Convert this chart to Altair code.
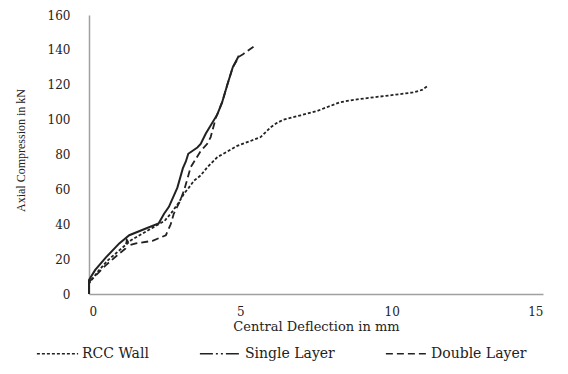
import altair as alt
import pandas as pd

series_names = ["RCC Wall", "Single Layer", "Double Layer"]

rcc_x = [0, 0, 0.3, 0.6, 1.0, 1.4, 1.8, 2.15, 2.5, 2.7, 2.95, 3.14, 3.3, 3.47, 3.69, 3.91, 4.24,
         4.6, 4.9, 5.3, 5.67, 5.85, 6.0, 6.2, 6.43, 7.0, 7.54, 8.3, 8.8, 9.4, 10.0, 10.7, 11.0, 11.2]
rcc_y = [0, 6, 13, 19, 25, 31, 35, 38.5, 42, 46, 52, 57.6, 61, 65, 68, 72.7, 78.5,
         82, 85, 87.5, 90, 93, 95.6, 98, 100, 102.5, 105, 110, 111.5, 112.8, 114, 115.6, 117, 119.4]

single_x = [0, 0, 0.2, 0.56, 1.0, 1.33, 1.9, 2.3, 2.48, 2.64, 2.92, 3.1, 3.2, 3.28, 3.58, 3.69,
            3.86, 4.24, 4.4, 4.57, 4.75, 4.95]
single_y = [0, 8, 13.7, 21, 29, 33.7, 37.7, 40.4, 46, 50, 61, 72, 76, 80.4, 84, 86,
            92, 103, 110, 120, 130, 136.6]

double_x = [0, 0, 0.3, 0.56, 1.0, 1.2, 1.25, 1.35, 1.55, 2.1, 2.54, 2.7, 2.8, 3.0, 3.14, 3.25,
            3.36, 3.69, 3.9, 4.02, 4.19, 4.4, 4.57, 4.75, 4.95, 5.1, 5.45]
double_y = [0, 7, 12, 16.6, 23.2, 26, 31, 28, 29, 30.5, 33.7, 40, 46, 53, 59.4, 66,
            72.7, 82, 86, 90, 101, 110, 120, 130, 136, 137.7, 142]

rows = []
for name, xs, ys in [("RCC Wall", rcc_x, rcc_y), ("Single Layer", single_x, single_y),
                     ("Double Layer", double_x, double_y)]:
    for i, (a, b) in enumerate(zip(xs, ys)):
        rows.append({"series": name, "x": a, "y": b, "i": i})
df = pd.DataFrame(rows)

x_enc = alt.X("x:Q", scale=alt.Scale(domain=[0, 15], nice=False),
              axis=alt.Axis(values=[0, 5, 10, 15], title="Central Deflection in mm", grid=False,
                            ticks=False, domainColor="#a0a0a0", domainWidth=1.5,
                            labelFont="DejaVu Serif", labelFontSize=12, labelColor="#222",
                            labelPadding=12, titleFont="DejaVu Serif", titleFontSize=13,
                            titleFontWeight="normal", titleColor="#222", titlePadding=3))
y_enc = alt.Y("y:Q", scale=alt.Scale(domain=[0, 160], nice=False),
              axis=alt.Axis(values=list(range(0, 161, 20)), title="Axial Compression in kN",
                            grid=False, ticks=False, domainColor="#a0a0a0", domainWidth=1.5,
                            labelFont="DejaVu Serif", labelFontSize=12, labelColor="#222",
                            labelPadding=19, titleFont="Liberation Serif", titleFontSize=12,
                            titleFontWeight="normal", titleColor="#222",
                            titleX=-69, titleY=135, titleAngle=270, titleAlign="center",
                            titleBaseline="middle"))

base = alt.Chart(df)

dashed = base.transform_filter(alt.datum.series != "Single Layer").mark_line(
    strokeWidth=1.8, color="#222"
).encode(
    x=x_enc, y=y_enc, order="i:Q",
    strokeDash=alt.StrokeDash(
        "series:N",
        scale=alt.Scale(domain=series_names, range=[[3, 2], [13, 3, 2, 3, 2, 3], [7, 4]]),
        legend=alt.Legend(orient="none", legendX=-53, legendY=317, direction="horizontal",
                          title=None, symbolType="stroke", symbolSize=1700,
                          symbolStrokeWidth=1.5, symbolStrokeColor="#222",
                          labelFont="DejaVu Serif", labelFontSize=14, labelColor="#222",
                          labelOffset=3, columnPadding=47, symbolOpacity=1),
    ),
)

single = base.transform_filter(alt.datum.series == "Single Layer").mark_line(
    strokeWidth=2, color="#222"
).encode(x=x_enc, y=y_enc, order="i:Q")

chart = alt.layer(dashed, single).properties(
    width=454, height=279,
    autosize=alt.AutoSizeParams(type="none"),
    padding={"left": 81, "top": 7, "right": 17, "bottom": 72},
    background="white",
).configure_view(stroke=None)

chart.save("out.html", embed_options={"renderer": "svg", "actions": False})
